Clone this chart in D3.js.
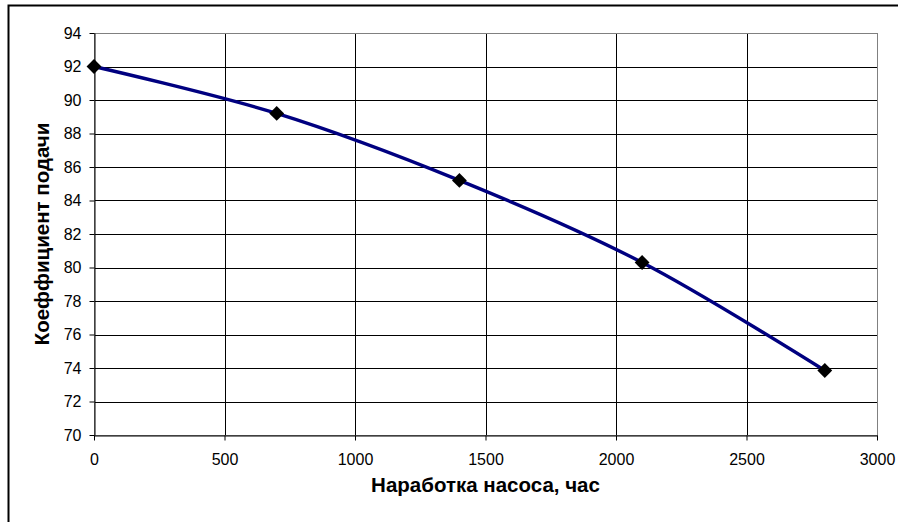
<!DOCTYPE html>
<html>
<head>
<meta charset="utf-8">
<script src="https://cdn.jsdelivr.net/npm/d3@7"></script>
<style>
  body { margin: 0; background: #fff; }
  svg { display: block; font-family: "Liberation Sans", Arial, sans-serif; }
</style>
</head>
<body>
<div id="chart"></div>
<script>
// data
const hours = [0, 700, 1400, 2100, 2800];
const feedCoef = [92, 89.2, 85.2, 80.3, 73.85];
const xTicks = [0, 500, 1000, 1500, 2000, 2500, 3000];
const yTicks = [70, 72, 74, 76, 78, 80, 82, 84, 86, 88, 90, 92, 94];
const xTitle = "Наработка насоса, час";
const yTitle = "Коеффициент подачи";

const W = 898, H = 522;
const plot = { left: 94, right: 877, top: 33, bottom: 435 };

const svg = d3.select("#chart").append("svg")
  .attr("width", W)
  .attr("height", H);

// outer chart border (runs off right/bottom edges)
svg.append("rect")
  .attr("x", 8.5).attr("y", 5.5)
  .attr("width", W + 10).attr("height", H + 10)
  .attr("fill", "#fff")
  .attr("stroke", "#000")
  .attr("stroke-width", 2);

const x = d3.scaleLinear().domain([0, 3000]).range([plot.left, plot.right]);
const y = d3.scaleLinear().domain([70, 94]).range([plot.bottom, plot.top]);

// grid
svg.append("g")
  .selectAll("line.h")
  .data(yTicks)
  .join("line")
  .attr("x1", plot.left).attr("x2", plot.right)
  .attr("y1", d => Math.round(y(d)) + 0.5)
  .attr("y2", d => Math.round(y(d)) + 0.5)
  .attr("stroke", "#000")
  .attr("stroke-width", 1);

svg.append("g")
  .selectAll("line.v")
  .data(xTicks.slice(1, -1))
  .join("line")
  .attr("x1", d => Math.round(x(d)) + 0.5)
  .attr("x2", d => Math.round(x(d)) + 0.5)
  .attr("y1", plot.top).attr("y2", plot.bottom)
  .attr("stroke", "#000")
  .attr("stroke-width", 1);

// plot area border
svg.append("rect")
  .attr("x", plot.left + 0.5).attr("y", plot.top + 0.5)
  .attr("width", plot.right - plot.left).attr("height", plot.bottom - plot.top)
  .attr("fill", "none")
  .attr("stroke", "#808080");

// axes
const xAxis = svg.append("g")
  .attr("transform", `translate(0,${Math.round(y(70)) + 0.5})`)
  .call(d3.axisBottom(x).tickValues(xTicks).tickFormat(d3.format("d"))
    .tickSize(5).tickPadding(13).tickSizeOuter(0));
const yAxis = svg.append("g")
  .attr("transform", `translate(${Math.round(x(0)) + 0.5},0)`)
  .call(d3.axisLeft(y).tickValues(yTicks).tickFormat(d3.format("d"))
    .tickSize(5).tickPadding(8).tickSizeOuter(0));

[xAxis, yAxis].forEach(g => {
  g.attr("font-size", null).attr("font-family", null);
  g.selectAll("path.domain").attr("stroke", "#000");
  g.selectAll(".tick line").attr("stroke", "#000");
  g.selectAll(".tick text")
    .attr("fill", "#000")
    .style("font-size", "16px");
});

// series
const pts = hours.map((h, i) => [h, feedCoef[i]]);

svg.append("path")
  .datum(pts)
  .attr("fill", "none")
  .attr("stroke", "#000080")
  .attr("stroke-width", 3.4)
  .attr("d", d3.line()
    .x(d => x(d[0]))
    .y(d => y(d[1]))
    .curve(d3.curveCatmullRom.alpha(0.5)));

svg.append("g")
  .selectAll("path.m")
  .data(pts)
  .join("path")
  .attr("transform", d => `translate(${x(d[0])},${y(d[1])})`)
  .attr("d", d3.symbol(d3.symbolDiamond2, 140))
  .attr("fill", "#000");

// titles
svg.append("text")
  .attr("x", (plot.left + plot.right) / 2)
  .attr("y", 492)
  .attr("text-anchor", "middle")
  .style("font-size", "20.5px")
  .style("font-weight", "bold")
  .text(xTitle);

svg.append("text")
  .attr("transform", `translate(49,${(plot.top + plot.bottom) / 2}) rotate(-90)`)
  .attr("text-anchor", "middle")
  .style("font-size", "20.5px")
  .style("font-weight", "bold")
  .text(yTitle);
</script>
</body>
</html>
